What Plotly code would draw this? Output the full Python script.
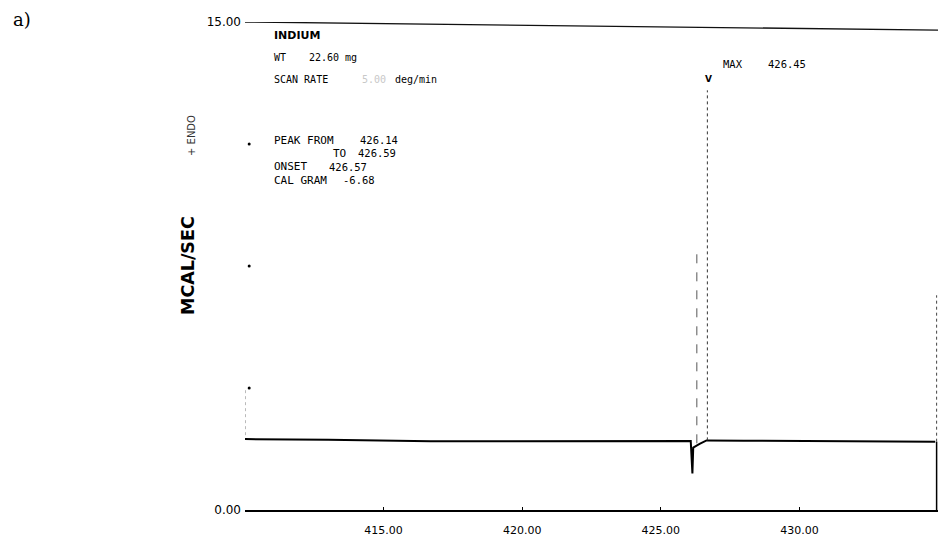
import plotly.graph_objects as go

# ---- data ----
temp_c = [410.0, 413.0, 416.7, 421.0, 424.0, 426.08, 426.14, 426.17, 426.40, 426.65,
          428.0, 431.0, 434.9]
heat_flow = [2.18, 2.16, 2.11, 2.12, 2.12, 2.12, 1.12, 1.92, 2.03, 2.14,
             2.13, 2.12, 2.10]

peak_rise_x = [426.68, 426.68]
peak_rise_y = [2.14, 12.9]
peak_fall_x = [426.30, 426.30]
peak_fall_y = [2.05, 8.0]

x_ticks = [415, 420, 425, 430]
x_ticklabels = ["415.00", "420.00", "425.00", "430.00"]
y_ticks = [0, 15]
y_ticklabels = ["0.00", "15.00"]
y_minor_ticks = [3.75, 7.5, 11.25]

x_range = [410, 435]
y_range = [0, 15]

# ---- layout geometry (pixels) ----
W, H = 939, 541
L, R, T, B = 245, 938, 22, 510


def px(x):
    return (x - L) / (R - L)


def py(y):
    return (B - y) / (B - T)


fig = go.Figure()

# top border line of the chart paper
fig.add_trace(go.Scatter(x=[x_range[0], x_range[1]], y=[15.0, 14.75], mode="lines",
                         line=dict(color="#111", width=1.4), hoverinfo="skip"))
# main DSC trace
fig.add_trace(go.Scatter(x=temp_c, y=heat_flow, mode="lines",
                         line=dict(color="#000", width=2), hoverinfo="skip"))
# off-scale peak pen strokes (faint, broken)
fig.add_trace(go.Scatter(x=peak_rise_x, y=peak_rise_y, mode="lines",
                         line=dict(color="#333", width=1, dash="dot"), hoverinfo="skip"))
fig.add_trace(go.Scatter(x=peak_fall_x, y=peak_fall_y, mode="lines",
                         line=dict(color="#555", width=1, dash="dash"), hoverinfo="skip"))
# right edge pen return
fig.add_trace(go.Scatter(x=[434.95, 434.95], y=[0, 2.1], mode="lines",
                         line=dict(color="#000", width=1.5), hoverinfo="skip"))
fig.add_trace(go.Scatter(x=[434.95, 434.95], y=[2.1, 6.6], mode="lines",
                         line=dict(color="#444", width=1, dash="dot"), hoverinfo="skip"))
# left edge fragments
fig.add_trace(go.Scatter(x=[409.95, 409.95], y=[0, 0.95], mode="lines",
                         line=dict(color="#222", width=1.2), hoverinfo="skip"))
fig.add_trace(go.Scatter(x=[410.0, 410.0], y=[2.3, 3.7], mode="lines",
                         line=dict(color="#777", width=1, dash="dot"), hoverinfo="skip"))
fig.add_trace(go.Scatter(x=[410.15] * len(y_minor_ticks), y=y_minor_ticks, mode="markers",
                         marker=dict(color="#000", size=3, symbol="circle"), hoverinfo="skip"))

SANS = "DejaVu Sans"
MONO = "DejaVu Sans Mono"
ann = []


def text(x, y, s, size=11, anchor="left", bold=False, angle=0, color="#000", fam=MONO):
    ann.append(dict(x=px(x), y=py(y), xref="paper", yref="paper", text=("<b>%s</b>" % s) if bold else s,
                    showarrow=False, xanchor=anchor, yanchor="middle", textangle=angle,
                    font=dict(family=fam, size=size, color=color)))


text(272, 36, "INDIUM", size=11, bold=True, fam=SANS)
text(272, 58, "WT", size=10)
text(307, 58, "22.60", size=10)
text(343, 58, "mg", size=10)
text(272, 80, "SCAN RATE", size=10)
text(360, 80, "5.00", size=10, color="#c8c8c8")
text(393, 80, "deg/min", size=10)
text(272, 140, "PEAK FROM", size=11)
text(358, 140, "426.14", size=10.5)
text(331, 153, "TO", size=11)
text(356, 153, "426.59", size=10.5)
text(272, 167, "ONSET", size=11)
text(327, 167, "426.57", size=10.5)
text(272, 180, "CAL GRAM", size=11)
text(341, 180, "-6.68", size=10.5)
text(721, 64, "MAX", size=10.5)
text(766, 64, "426.45", size=10.5)
text(708, 79, "V", size=9, anchor="center", bold=True, fam=SANS)
text(188, 266, "MCAL/SEC", size=17.5, anchor="center", bold=True, angle=-90, fam=SANS)
text(191, 136, "+ ENDO", size=10, anchor="center", angle=-90, color="#333", fam=SANS)
text(11, 19, "a)", size=18, fam="DejaVu Serif")

fig.update_layout(
    width=W, height=H,
    margin=dict(l=L, r=W - R, t=T, b=H - B, pad=0),
    paper_bgcolor="white", plot_bgcolor="white",
    showlegend=False,
    annotations=ann,
    xaxis=dict(range=x_range, tickvals=x_ticks, ticktext=x_ticklabels,
               showgrid=False, zeroline=False, showline=True, linecolor="#000", linewidth=2,
               ticks="inside", ticklen=3, tickcolor="#000",
               tickfont=dict(family=SANS, size=11, color="#000"), ticklabelstandoff=9),
    yaxis=dict(range=y_range, tickvals=y_ticks, ticktext=y_ticklabels,
               showgrid=False, zeroline=False, showline=False, ticks="",
               tickfont=dict(family=SANS, size=12, color="#000"), ticklabelstandoff=3),
)

fig.write_html("out.html")
